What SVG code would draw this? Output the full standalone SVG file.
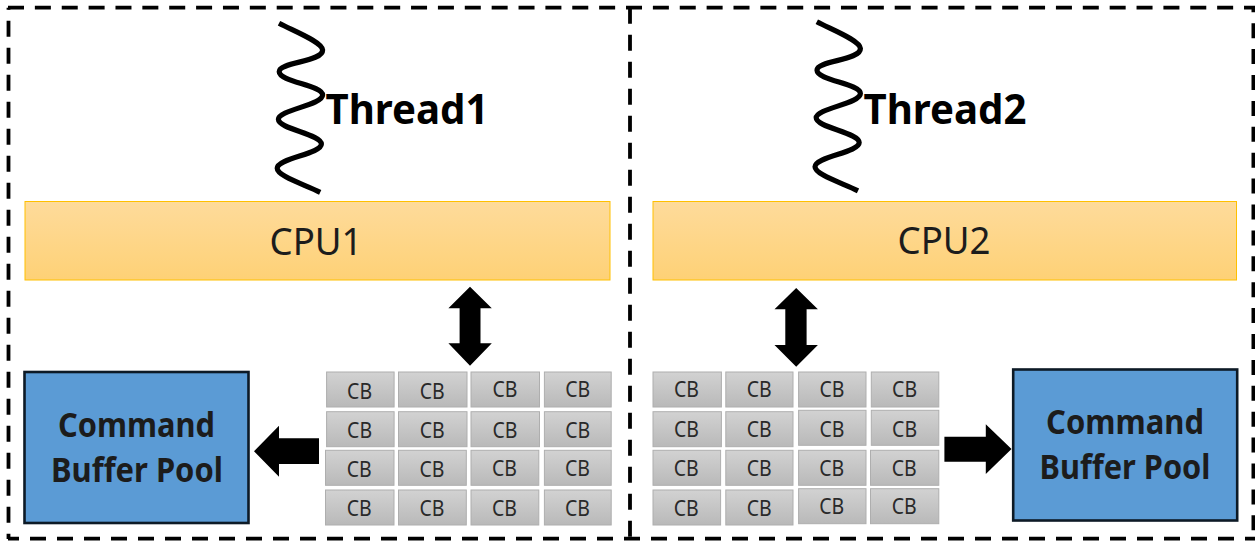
<svg xmlns="http://www.w3.org/2000/svg" width="1255" height="542" viewBox="0 0 1255 542">
<style>
text{font-family:"Noto Sans","Open Sans","Liberation Sans",sans-serif;fill:#1c1c1c;text-anchor:middle}
.frame{fill:none;stroke:#000;stroke-width:3.8}
.wave{fill:none;stroke:#000;stroke-width:5.2}
.cpu{fill:url(#cpuFill);stroke:#ffc000;stroke-width:1}
.pool{fill:#5b9bd5;stroke:#0d1a26;stroke-width:2.6}
.cb{fill:url(#cbFill);stroke:#aeaeae;stroke-width:1}
.cbt{font-size:21px;fill:#2a2a2a}
.cput{font-size:38px}
.poolt{font-size:33.5px;font-weight:700}
.threadt{font-size:42px;font-weight:700;fill:#000}
.arrow{fill:#000}
</style>
<defs>
<linearGradient id="cpuFill" x1="0" y1="0" x2="0" y2="1"><stop offset="0" stop-color="#fedb9b"/><stop offset="1" stop-color="#fed176"/></linearGradient>
<linearGradient id="cbFill" x1="0" y1="0" x2="0" y2="1"><stop offset="0" stop-color="#d2d2d2"/><stop offset="1" stop-color="#b9b9b9"/></linearGradient>
</defs>
<rect width="1255" height="542" fill="#fff"/>
<g id="frames">
<path class="frame" stroke-dasharray="16 10.87" d="M8,7.7H1255"/>
<path class="frame" stroke-dasharray="16 11" stroke-dashoffset="14" d="M8.5,7.7V539"/>
<path class="frame" stroke-dasharray="16 11" stroke-dashoffset="5" d="M8,538.7H1255"/>
<path class="frame" stroke-dasharray="16 11" d="M630,7.7V539"/>
<path class="frame" stroke-dasharray="15 10.9" stroke-dashoffset="10.4" d="M1253.4,7.7V539"/>
</g>
<g id="thread1">
<path class="wave" d="M279,23.3C296,32 322,42 322.6,50C323,62 279,62 279.2,71.7C279.4,82 322.6,85 322.6,95C322.6,105 278.4,110 278.4,119.3C278.4,129 321.4,134 321.4,144C321.4,154 277.2,158 277.2,168.3C277.2,176 303,184 320.2,192.3"/>
<text class="threadt" x="407" y="124" textLength="163" lengthAdjust="spacingAndGlyphs">Thread1</text>
</g>
<g id="thread2">
<path class="wave" transform="translate(537.8,-1.5)" d="M279,23.3C296,32 322,42 322.6,50C323,62 279,62 279.2,71.7C279.4,82 322.6,85 322.6,95C322.6,105 278.4,110 278.4,119.3C278.4,129 321.4,134 321.4,144C321.4,154 277.2,158 277.2,168.3C277.2,176 303,184 320.2,192.3"/>
<text class="threadt" x="945" y="124" textLength="163" lengthAdjust="spacingAndGlyphs">Thread2</text>
</g>
<g id="cpu1">
<rect class="cpu" x="25" y="201.5" width="585" height="78.5"/>
<text class="cput" x="316" y="255" textLength="93" lengthAdjust="spacingAndGlyphs">CPU1</text>
</g>
<g id="cpu2">
<rect class="cpu" x="653" y="201.5" width="583.5" height="78.5"/>
<text class="cput" x="944" y="253.5" textLength="93" lengthAdjust="spacingAndGlyphs">CPU2</text>
</g>
<g id="pool1">
<rect class="pool" x="24.5" y="372" width="224" height="151"/>
<text class="poolt" x="136.5" y="437" textLength="157" lengthAdjust="spacingAndGlyphs">Command</text>
<text class="poolt" x="137" y="481.5" textLength="172" lengthAdjust="spacingAndGlyphs">Buffer Pool</text>
</g>
<g id="pool2">
<rect class="pool" x="1013.2" y="369.5" width="224" height="151"/>
<text class="poolt" x="1125" y="433.5" textLength="158" lengthAdjust="spacingAndGlyphs">Command</text>
<text class="poolt" x="1125" y="479" textLength="171" lengthAdjust="spacingAndGlyphs">Buffer Pool</text>
</g>
<g id="cbs1">
<g id="cb1-1"><rect class="cb" x="326.6" y="372" width="67.5" height="35"/><text class="cbt" x="359.6" y="398.7" textLength="25" lengthAdjust="spacingAndGlyphs">CB</text></g>
<g id="cb1-2"><rect class="cb" x="398.5" y="372" width="68.5" height="35"/><text class="cbt" x="432.3" y="398.7" textLength="25" lengthAdjust="spacingAndGlyphs">CB</text></g>
<g id="cb1-3"><rect class="cb" x="471" y="372" width="68.5" height="35"/><text class="cbt" x="505" y="397.3" textLength="25" lengthAdjust="spacingAndGlyphs">CB</text></g>
<g id="cb1-4"><rect class="cb" x="544.4" y="372" width="66.8" height="35"/><text class="cbt" x="577.8" y="397.3" textLength="25" lengthAdjust="spacingAndGlyphs">CB</text></g>
<g id="cb1-5"><rect class="cb" x="326.6" y="411.7" width="67.5" height="35"/><text class="cbt" x="359.6" y="437.7" textLength="25" lengthAdjust="spacingAndGlyphs">CB</text></g>
<g id="cb1-6"><rect class="cb" x="398.5" y="411.7" width="68.5" height="35"/><text class="cbt" x="432.3" y="437.7" textLength="25" lengthAdjust="spacingAndGlyphs">CB</text></g>
<g id="cb1-7"><rect class="cb" x="471" y="411.7" width="68.5" height="35"/><text class="cbt" x="505" y="437.7" textLength="25" lengthAdjust="spacingAndGlyphs">CB</text></g>
<g id="cb1-8"><rect class="cb" x="544.4" y="411.7" width="66.8" height="35"/><text class="cbt" x="577.8" y="437.7" textLength="25" lengthAdjust="spacingAndGlyphs">CB</text></g>
<g id="cb1-9"><rect class="cb" x="325.5" y="450.3" width="68.5" height="35"/><text class="cbt" x="359.3" y="477.3" textLength="25" lengthAdjust="spacingAndGlyphs">CB</text></g>
<g id="cb1-10"><rect class="cb" x="398.5" y="450.3" width="67.8" height="35"/><text class="cbt" x="432" y="477.3" textLength="25" lengthAdjust="spacingAndGlyphs">CB</text></g>
<g id="cb1-11"><rect class="cb" x="471" y="450.3" width="67.8" height="35"/><text class="cbt" x="504.5" y="476.3" textLength="25" lengthAdjust="spacingAndGlyphs">CB</text></g>
<g id="cb1-12"><rect class="cb" x="544.4" y="450.3" width="66.8" height="35"/><text class="cbt" x="577.5" y="476.3" textLength="25" lengthAdjust="spacingAndGlyphs">CB</text></g>
<g id="cb1-13"><rect class="cb" x="325.5" y="490" width="68.5" height="35"/><text class="cbt" x="359.3" y="515.7" textLength="25" lengthAdjust="spacingAndGlyphs">CB</text></g>
<g id="cb1-14"><rect class="cb" x="398.5" y="490" width="67.8" height="35"/><text class="cbt" x="432" y="515.7" textLength="25" lengthAdjust="spacingAndGlyphs">CB</text></g>
<g id="cb1-15"><rect class="cb" x="471" y="490" width="67.8" height="35"/><text class="cbt" x="504.5" y="515.7" textLength="25" lengthAdjust="spacingAndGlyphs">CB</text></g>
<g id="cb1-16"><rect class="cb" x="544.4" y="490" width="66.8" height="35"/><text class="cbt" x="577.5" y="515.7" textLength="25" lengthAdjust="spacingAndGlyphs">CB</text></g>
</g>
<g id="cbs2">
<g id="cb2-1"><rect class="cb" x="653" y="372" width="68.4" height="35"/><text class="cbt" x="686.5" y="397.3" textLength="25" lengthAdjust="spacingAndGlyphs">CB</text></g>
<g id="cb2-2"><rect class="cb" x="725.8" y="372" width="67.2" height="35"/><text class="cbt" x="759.2" y="397.3" textLength="25" lengthAdjust="spacingAndGlyphs">CB</text></g>
<g id="cb2-3"><rect class="cb" x="798.6" y="372" width="67.4" height="35"/><text class="cbt" x="831.9" y="397.3" textLength="25" lengthAdjust="spacingAndGlyphs">CB</text></g>
<g id="cb2-4"><rect class="cb" x="871.3" y="372" width="67.5" height="35"/><text class="cbt" x="904.6" y="397.3" textLength="25" lengthAdjust="spacingAndGlyphs">CB</text></g>
<g id="cb2-5"><rect class="cb" x="653" y="411.7" width="68.4" height="35"/><text class="cbt" x="686.5" y="437.3" textLength="25" lengthAdjust="spacingAndGlyphs">CB</text></g>
<g id="cb2-6"><rect class="cb" x="725.8" y="411.7" width="67.2" height="35"/><text class="cbt" x="759.2" y="437.3" textLength="25" lengthAdjust="spacingAndGlyphs">CB</text></g>
<g id="cb2-7"><rect class="cb" x="798.6" y="410.3" width="67.4" height="35"/><text class="cbt" x="831.9" y="437.3" textLength="25" lengthAdjust="spacingAndGlyphs">CB</text></g>
<g id="cb2-8"><rect class="cb" x="871.3" y="410.3" width="67.5" height="35"/><text class="cbt" x="904.6" y="437.3" textLength="25" lengthAdjust="spacingAndGlyphs">CB</text></g>
<g id="cb2-9"><rect class="cb" x="653" y="450.3" width="67.6" height="35"/><text class="cbt" x="686.2" y="475.7" textLength="25" lengthAdjust="spacingAndGlyphs">CB</text></g>
<g id="cb2-10"><rect class="cb" x="725.8" y="450.3" width="67.2" height="35"/><text class="cbt" x="759.2" y="475.7" textLength="25" lengthAdjust="spacingAndGlyphs">CB</text></g>
<g id="cb2-11"><rect class="cb" x="798.6" y="450.3" width="67.4" height="35"/><text class="cbt" x="831.7" y="475.7" textLength="25" lengthAdjust="spacingAndGlyphs">CB</text></g>
<g id="cb2-12"><rect class="cb" x="870.5" y="450.3" width="68.3" height="35"/><text class="cbt" x="904.3" y="475.7" textLength="25" lengthAdjust="spacingAndGlyphs">CB</text></g>
<g id="cb2-13"><rect class="cb" x="653" y="490" width="67.6" height="35"/><text class="cbt" x="686.2" y="515.7" textLength="25" lengthAdjust="spacingAndGlyphs">CB</text></g>
<g id="cb2-14"><rect class="cb" x="725.8" y="490" width="67.2" height="35"/><text class="cbt" x="759.2" y="515.7" textLength="25" lengthAdjust="spacingAndGlyphs">CB</text></g>
<g id="cb2-15"><rect class="cb" x="798.6" y="488.7" width="67.4" height="35"/><text class="cbt" x="831.7" y="514" textLength="25" lengthAdjust="spacingAndGlyphs">CB</text></g>
<g id="cb2-16"><rect class="cb" x="870.5" y="488.7" width="68.3" height="35"/><text class="cbt" x="904.3" y="514" textLength="25" lengthAdjust="spacingAndGlyphs">CB</text></g>
</g>
<g id="connectors">
<polygon class="arrow" points="470,286.7 491.8,308.3 480.5,308.3 480.5,343.3 491.8,343.3 470,365.7 448.4,343.3 459.6,343.3 459.6,308.3 448.4,308.3"/>
<polygon class="arrow" points="796.2,288 817.9,309.3 806.6,309.3 806.6,345 817.9,345 796.2,366.7 774.5,345 785.3,345 785.3,309.3 774.5,309.3"/>
<polygon class="arrow" points="254,451.3 279,425.7 279,438.3 319,438.3 319,464 279,464 279,476.7"/>
<polygon class="arrow" points="1011.5,449 985.8,424.3 985.8,436.7 944.4,436.7 944.4,461.7 985.8,461.7 985.8,474"/>
</g>
</svg>
